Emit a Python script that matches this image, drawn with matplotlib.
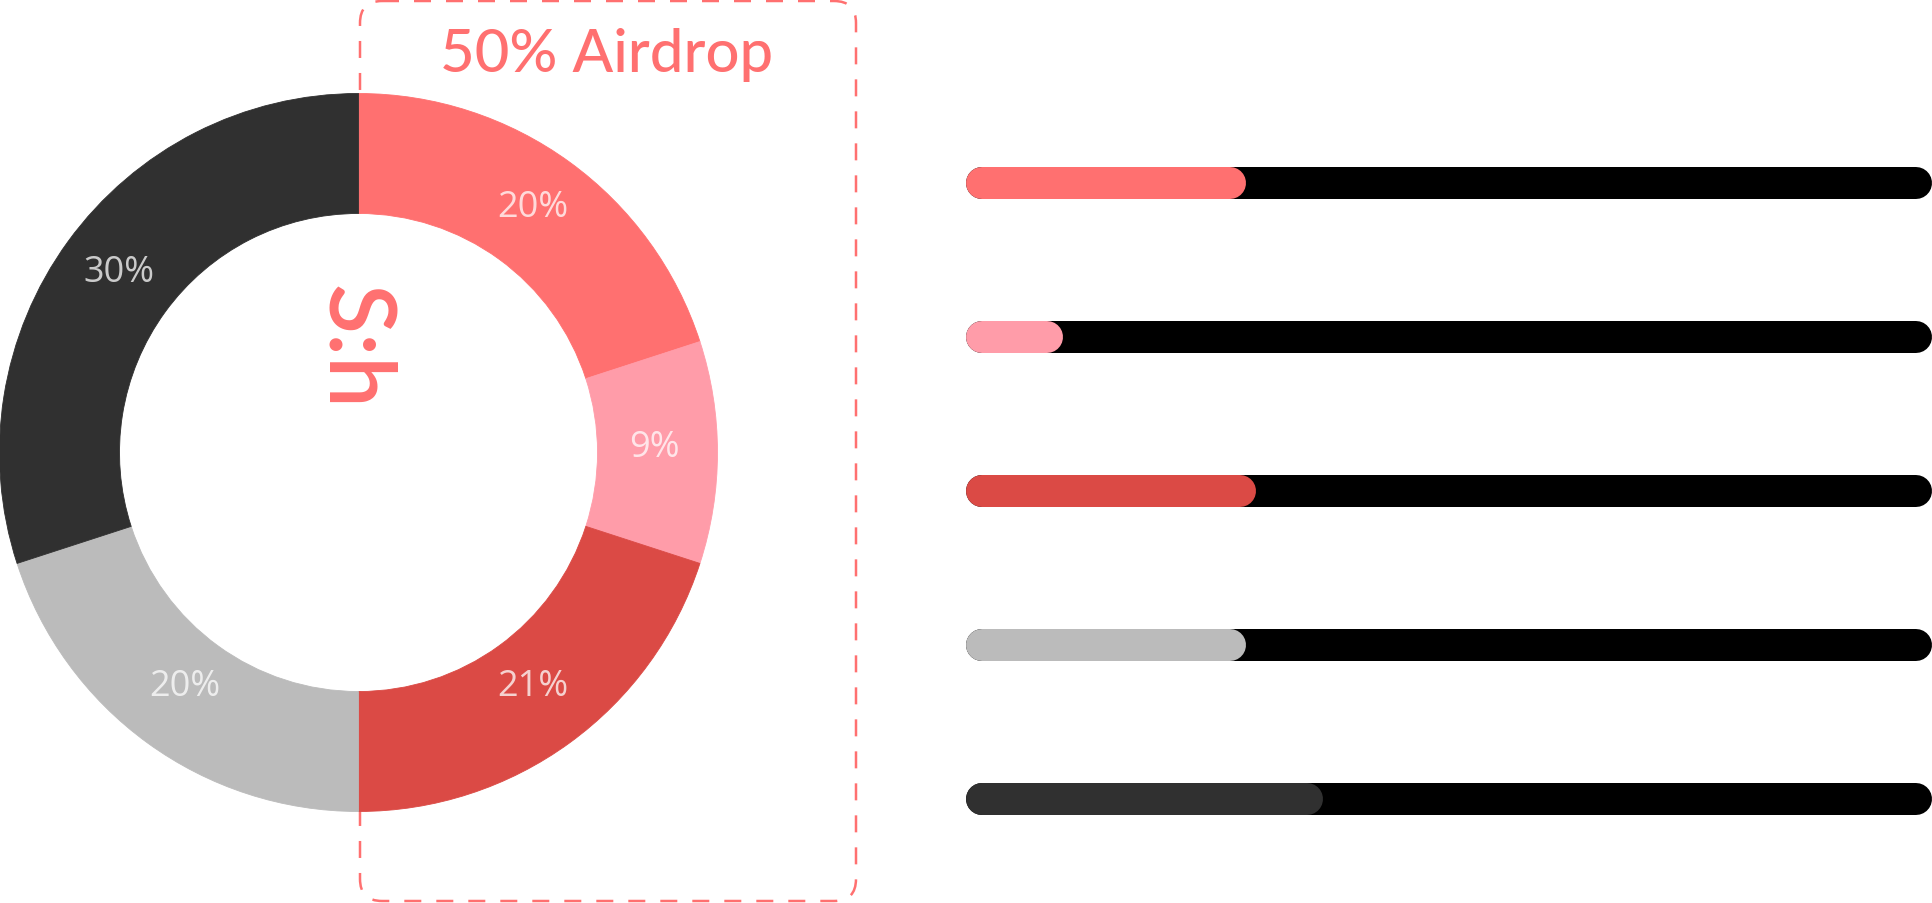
import matplotlib
matplotlib.use("Agg")
import matplotlib.pyplot as plt
from matplotlib.patches import FancyBboxPatch, Circle

# ---------------- data ----------------
segment_values = [20, 10, 20, 20, 30]
segment_labels = ["20%", "9%", "21%", "20%", "30%"]
segment_colors = ["#FF7070", "#FF9CA9", "#DB4A45", "#BBBBBB", "#303030"]
bar_fill = [29, 10, 30, 29, 37]          # percent of track length
title_text = "50% Airdrop"
logo_text = "S:h"

# ---------------- layout ----------------
W, H = 1932, 904
fig = plt.figure(figsize=(W / 100, H / 100), dpi=100)
fig.patch.set_facecolor("white")

# background axes in pixel coordinates (dashed box + title)
bg = fig.add_axes([0, 0, 1, 1])
bg.set_xlim(0, W)
bg.set_ylim(H, 0)
bg.axis("off")
box = FancyBboxPatch((360, 2), 496, 900,
                     boxstyle="round,pad=0,rounding_size=22",
                     facecolor="none", edgecolor="#FF7070",
                     linewidth=1.8, linestyle=(0, (6.8, 6.0)), zorder=1)
bg.add_patch(box)
bg.text(606.5, 72, title_text, ha="center", va="baseline",
        fontsize=43, fontweight="medium", color="#FF7070",
        family=["Lato", "DejaVu Sans"])

# donut axes
cx, cy, R = 358.5, 453.5, 359
ring = 120
dax = fig.add_axes([(cx - R) / W, (H - cy - R) / H, 2 * R / W, 2 * R / H])
dax.patch.set_alpha(0)
wfrac = ring / R
wedges, texts = dax.pie(segment_values, colors=segment_colors, startangle=90,
                        counterclock=False, radius=1,
                        labels=segment_labels, labeldistance=0.825,
                        wedgeprops=dict(width=wfrac, linewidth=0.6),
                        textprops=dict(fontsize=26, color="white", alpha=0.75,
                                       family=["Open Sans", "DejaVu Sans"]))
for wdg, c in zip(wedges, segment_colors):
    wdg.set_edgecolor(c)
for t in texts:
    t.set_ha("center")
    t.set_va("center")
    x, y = t.get_position()
    t.set_position((x, y + 6 / R))
dax.add_patch(Circle((0, 0), 1 - wfrac, facecolor="white", edgecolor="none", zorder=0))
dax.set_xlim(-1, 1)
dax.set_ylim(-1, 1)
dax.set_aspect("equal")
dax.axis("off")

# logo in the donut hole (figure-level text, drawn above the axes)
fig.text(353 / W, 1 - 347 / H, logo_text, rotation=-90, ha="center", va="center",
         fontsize=66, fontweight="semibold", color="#FF7070",
         family=["Lato", "DejaVu Sans"], zorder=10)

# progress bars
x0, x1 = 966, 1932
top, slot = 107, 154
n = len(bar_fill)
bax = fig.add_axes([x0 / W, (H - (top + slot * n)) / H, (x1 - x0) / W, slot * n / H])
bax.set_xlim(0, 100)
bax.set_ylim(n - 0.5, -0.5)
bax.axis("off")
bax.patch.set_alpha(0)
thick_px = 32
lw_pt = thick_px * 72 / 100
cap = (thick_px / 2) / ((x1 - x0) / 100)
for i, (v, c) in enumerate(zip(bar_fill, segment_colors)):
    bax.plot([cap, 100 - cap], [i, i], color="black", lw=lw_pt,
             solid_capstyle="round", zorder=1)
    bax.plot([cap, v - cap], [i, i], color=c, lw=lw_pt,
             solid_capstyle="round", zorder=2)

fig.savefig("out.png", dpi=100)
